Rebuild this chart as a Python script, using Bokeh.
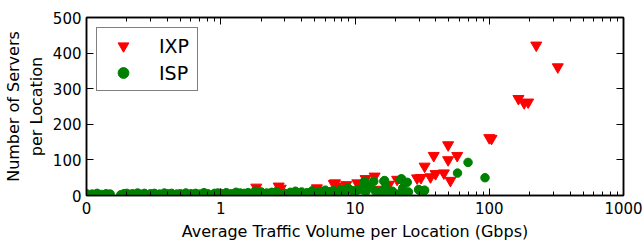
from bokeh.plotting import figure
from bokeh.models import (LogAxis, LinearAxis, FixedTicker, Legend, LegendItem, Range1d)
from bokeh.embed import file_html
from bokeh.resources import INLINE

# ---- data ----
ixp_traffic = [224, 324, 165, 182, 195, 100, 104, 49.4, 38.6, 57.7, 49.4, 33, 36.5, 39.8,
               45.9, 51.4, 29, 31, 14, 10.4, 14.2, 17.9, 20.6, 12, 7.1, 1.84, 2.7, 2.8,
               5.2, 6.95, 7.3, 8.6]
ixp_servers = [422, 361, 272, 260, 262, 162, 160, 142, 112, 112, 100, 82, 52, 61,
               63, 42, 49, 50, 54, 35, 17, 31, 45, 47, 35, 23, 26, 20,
               21, 33, 26, 30]

isp_traffic = [0.10, 0.11, 0.12, 0.13, 0.14, 0.15, 0.18, 0.19, 0.2, 0.22, 0.24, 0.25, 0.27,
               0.3, 0.32, 0.35, 0.38, 0.4, 0.43, 0.47, 0.5, 0.55, 0.6, 0.65, 0.7, 0.75, 0.8,
               0.9, 0.95, 1.0, 1.1, 1.2, 1.3, 1.4, 1.5, 1.6, 1.8, 2.0, 2.2, 2.4, 2.6, 3.0,
               3.3, 3.6, 4.0, 4.4, 4.8, 5.2, 5.6, 6.0, 6.5, 7.0, 7.5, 8.0, 8.5, 9.0, 9.5,
               6.7, 7.8, 8.7, 8.9, 10.4, 11, 11.6, 11.8, 12.3, 13.8, 14.2, 16.4, 16.6, 16.2,
               16.4, 19, 21.8, 22.2, 24.5, 22.5, 22.7, 29.8, 32.6, 30, 33, 58, 69.5, 93,
               10, 12, 15, 18, 20, 25, 13, 17]
isp_servers = [5, 4, 6, 3, 5, 4, 2, 5, 6, 5, 7, 4, 6,
               5, 6, 4, 7, 5, 6, 4, 5, 7, 5, 6, 4, 8, 5,
               6, 7, 6, 8, 5, 9, 7, 6, 8, 12, 10, 7, 9, 11, 6,
               9, 12, 10, 8, 13, 9, 11, 15, 10, 13, 9, 15, 12, 17, 14,
               12, 17, 19, 20, 17, 17, 37, 40, 17, 40, 12, 40, 42, 12,
               17, 12, 45, 47, 37, 12, 21, 17, 12, 15, 15, 63, 93, 50,
               8, 10, 6, 8, 5, 10, 25, 22]

x_ticks = [0.1, 1, 10, 100, 1000]
x_tick_labels = ["0", "1", "10", "100", "1000"]
y_ticks = [0, 100, 200, 300, 400, 500]

FONT = "DejaVu Sans"

p = figure(width=644, height=243, x_axis_type="log",
           x_range=Range1d(0.1, 1000), y_range=Range1d(0, 500),
           output_backend="svg", toolbar_location=None,
           min_border_left=86, min_border_right=21, min_border_top=17,
           min_border_bottom=47)
p.grid.visible = False
p.outline_line_color = "black"
p.outline_line_width = 1.5

minor = [k * 10.0 ** e for e in range(-1, 3) for k in range(2, 10)]
xticker = FixedTicker(ticks=x_ticks, minor_ticks=minor)
yticker = FixedTicker(ticks=y_ticks)


def style_axis(ax, labels=True):
    ax.axis_line_color = "black"
    ax.axis_line_width = 1.5
    ax.major_tick_in = 7
    ax.major_tick_out = 0
    ax.major_tick_line_color = "black"
    ax.minor_tick_line_color = "black"
    ax.major_label_text_color = "black"
    ax.major_label_text_font = FONT
    if labels:
        ax.major_label_text_font_size = "15px"
    else:
        ax.major_label_text_font_size = "1px"
        ax.major_label_text_alpha = 0
    ax.axis_label_text_font = FONT
    ax.axis_label_text_font_size = "16px"
    ax.axis_label_text_font_style = "normal"
    ax.axis_label_text_color = "black"


xa = p.xaxis[0]
xa.ticker = xticker
xa.major_label_overrides = {t: l for t, l in zip(x_ticks, x_tick_labels)}
style_axis(xa)
xa.minor_tick_in = 4
xa.minor_tick_out = 0
xa.major_label_standoff = 6
xa.axis_label = "Average Traffic Volume per Location (Gbps)"
xa.axis_label_standoff = 5

ya = p.yaxis[0]
ya.ticker = yticker
style_axis(ya)
ya.minor_tick_in = 0
ya.minor_tick_out = 0
ya.major_label_standoff = 5
ya.axis_label = "Number of Servers\nper Location"
ya.axis_label_standoff = 4

top = LogAxis(ticker=xticker)
style_axis(top, labels=False)
top.minor_tick_in = 4
top.minor_tick_out = 0
top.major_label_standoff = 0
p.add_layout(top, "above")

right = LinearAxis(ticker=yticker)
style_axis(right, labels=False)
right.minor_tick_in = 0
right.minor_tick_out = 0
right.major_label_standoff = 0
p.add_layout(right, "right")

r1 = p.scatter(ixp_traffic, ixp_servers, marker="inverted_triangle", size=11,
               color="#ff0000")
r2 = p.scatter(isp_traffic, isp_servers, marker="circle", size=8.5,
               color="#008000")

legend = Legend(items=[LegendItem(label="IXP", renderers=[r1]),
                       LegendItem(label="ISP", renderers=[r2])],
                location="top_left", margin=10, padding=4, spacing=0,
                glyph_width=44, glyph_height=27, label_height=27, label_width=34,
                label_standoff=14, label_text_font_size="19px",
                label_text_font=FONT, label_text_color="black",
                border_line_color="black", border_line_width=1.5,
                background_fill_alpha=1)
p.add_layout(legend)

open("out.html", "w").write(file_html(p, INLINE))
